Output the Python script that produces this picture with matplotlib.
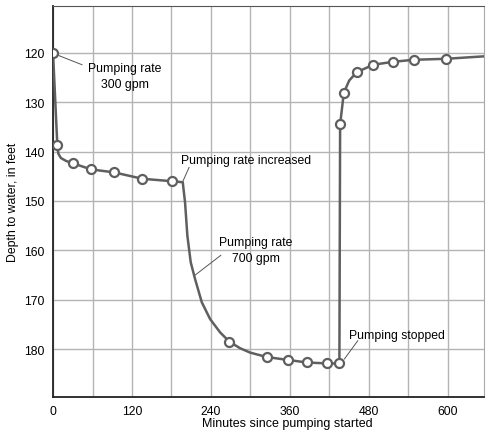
import matplotlib
matplotlib.use('Agg')
import matplotlib.pyplot as plt

plt.rcParams['font.family'] = ['Liberation Sans', 'DejaVu Sans']

# water level curve (minutes, depth in feet)
line_minutes = [0, 6.5, 8, 12, 20, 31, 57.8, 92.7, 135.7, 181.3, 197.1, 200.6, 204.1,
                209.2, 215.8, 226, 238.6, 253.8, 268, 284, 299.4, 324.7, 357.6, 385.5,
                416.9, 435.1, 436.2, 441.8, 450, 461.5, 486.8, 517.2, 548.2, 597.3, 655]
line_depth = [120, 138.6, 140.4, 141.3, 141.9, 142.4, 143.6, 144.2, 145.5, 146.0, 146.2,
              150.3, 157.0, 162.4, 165.8, 170.5, 173.9, 176.6, 178.5, 179.8, 180.7, 181.6,
              182.2, 182.7, 182.9, 182.9, 134.5, 128.1, 125.6, 123.9, 122.4, 121.8, 121.4,
              121.2, 120.7]

# measured points
obs_minutes = [0, 6.5, 31, 57.8, 92.7, 135.7, 181.3, 268, 324.7, 357.6, 385.5, 416.9,
               435.1, 436.2, 441.8, 461.5, 486.8, 517.2, 548.2, 597.3]
obs_depth = [120, 138.6, 142.4, 143.6, 144.2, 145.5, 146.0, 178.5, 181.6, 182.2, 182.7,
             182.9, 182.9, 134.5, 128.1, 123.9, 122.4, 121.8, 121.4, 121.2]

x_ticks = [0, 120, 240, 360, 480, 600]
y_ticks = [120, 130, 140, 150, 160, 170, 180]

fig = plt.figure(figsize=(4.91, 4.35), dpi=100)
ax = fig.add_axes([0.108, 0.085, 0.878, 0.899])

line_col = '#5f5f5f'
ax.plot(line_minutes, line_depth, color=line_col, lw=1.8, zorder=3)
ax.plot(obs_minutes, obs_depth, 'o', ms=6.5, mfc='white', mec=line_col, mew=1.6, zorder=4)

ax.set_xlim(0, 655)
ax.set_ylim(189.7, 110.5)
ax.set_xticks(x_ticks)
ax.set_yticks(y_ticks)
ax.set_xticks(range(60, 655, 60), minor=True)
ax.grid(True, which='both', color='#b4b4b4', lw=1)
ax.tick_params(which='both', length=0, labelsize=8.8, pad=6)
ax.set_axisbelow(True)

for s in ['left', 'bottom']:
    ax.spines[s].set_color('#222222')
    ax.spines[s].set_linewidth(1.3)
ax.spines['top'].set_color('#555555')
ax.spines['right'].set_color('#aaaaaa')

ax.set_xlabel('Minutes since pumping started', fontsize=9)
ax.xaxis.set_label_coords(0.543, -0.05)
ax.set_ylabel('Depth to water, in feet', fontsize=8.8, labelpad=4)

ann = dict(fontsize=8.8, zorder=5)
ax.plot([6, 44], [120.4, 122.4], color='#555555', lw=0.7)
ax.text(109, 124.7, 'Pumping rate\n300 gpm', ha='center', va='center', linespacing=1.45, **ann)

ax.plot([197, 206.7], [146.1, 143.2], color='#555555', lw=0.7)
ax.text(194.5, 141.7, 'Pumping rate increased', ha='left', va='center', **ann)

ax.plot([216, 254.9], [165.0, 161.0], color='#555555', lw=0.7)
ax.text(308.5, 159.9, 'Pumping rate\n700 gpm', ha='center', va='center', linespacing=1.45, **ann)

ax.plot([442.7, 463], [182.0, 178.3], color='#555555', lw=0.7)
ax.text(450, 177.1, 'Pumping stopped', ha='left', va='center', **ann)

fig.savefig('out.png', dpi=100)
